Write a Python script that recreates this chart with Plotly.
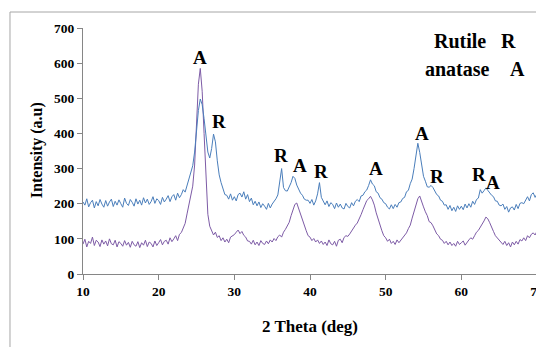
import numpy as np
import plotly.graph_objects as go

# 2-theta scan grid (deg)
two_theta = [round(10 + 0.25 * i, 2) for i in range(241)]

# Sample b (blue) intensities, one row per degree (4 points / deg)
intensity_b = [
    205, 196, 214, 191,   # 10
    203, 210, 188, 206,   # 11
    194, 212, 199, 190,   # 12
    209, 193, 205, 213,   # 13
    192, 207, 196, 211,   # 14
    200, 190, 216, 201,   # 15
    195, 212, 204, 193,   # 16
    214, 199, 210, 196,   # 17
    217, 202, 213, 198,   # 18
    206, 220, 201, 214,   # 19
    209, 198, 218, 205,   # 20
    213, 223, 206, 220,   # 21
    226, 210, 230, 217,   # 22
    226, 240, 233, 252,   # 23
    268, 287, 308, 347,   # 24
    405, 465, 498, 482,   # 25
    442, 383, 347, 330,   # 26
    357, 398, 376, 322,   # 27
    282, 260, 240, 226,   # 28
    224, 213, 228, 210,   # 29
    220, 208, 226, 230,   # 30
    219, 234, 213, 226,   # 31
    206, 216, 197, 207,   # 32
    194, 205, 189, 200,   # 33
    193, 184, 201, 188,   # 34
    199, 205, 214, 225,   # 35
    265, 300, 246, 237,   # 36
    236, 248, 260, 278,   # 37
    272, 253, 242, 230,   # 38
    224, 213, 210, 210,   # 39
    201, 212, 196, 208,   # 40
    228, 260, 218, 209,   # 41
    197, 208, 192, 203,   # 42
    198, 186, 202, 190,   # 43
    199, 188, 185, 201,   # 44
    192, 188, 203, 194,   # 45
    207, 212, 206, 222,   # 46
    224, 234, 239, 252,   # 47
    268, 256, 251, 234,   # 48
    230, 217, 213, 203,   # 49
    200, 190, 185, 197,   # 50
    186, 198, 190, 203,   # 51
    205, 215, 218, 234,   # 52
    238, 257, 270, 300,   # 53
    335, 372, 346, 307,   # 54
    278, 264, 248, 247,   # 55
    252, 246, 237, 226,   # 56
    222, 210, 207, 196,   # 57
    197, 184, 195, 180,   # 58
    190, 178, 194, 184,   # 59
    193, 183, 199, 188,   # 60
    200, 190, 207, 198,   # 61
    212, 216, 240, 230,   # 62
    237, 245, 238, 230,   # 63
    224, 220, 208, 207,   # 64
    196, 194, 199, 184,   # 65
    192, 176, 188, 191,   # 66
    182, 198, 186, 201,   # 67
    203, 200, 210, 220,   # 68
    208, 226, 231, 218,   # 69
    228,                  # 70
]

# Sample a (purple) intensities
intensity_a = [
    85, 99, 77, 93,       # 10
    87, 105, 81, 96,      # 11
    91, 78, 97, 85,       # 12
    94, 80, 100, 86,      # 13
    83, 96, 77, 92,       # 14
    87, 79, 95, 82,       # 15
    90, 76, 93, 83,       # 16
    79, 92, 75, 89,       # 17
    82, 96, 78, 91,       # 18
    87, 77, 94, 81,       # 19
    89, 98, 83, 93,       # 20
    96, 85, 103, 92,      # 21
    100, 109, 95, 113,    # 22
    118, 129, 144, 171,   # 23
    195, 226, 250, 310,   # 24
    430, 540, 585, 520,   # 25
    400, 270, 170, 136,   # 26
    121, 111, 119, 104,   # 27
    109, 95, 103, 91,     # 28
    99, 89, 105, 109,     # 29
    112, 119, 125, 115,   # 30
    121, 110, 105, 94,    # 31
    93, 85, 96, 83,       # 32
    91, 81, 95, 87,       # 33
    84, 94, 86, 97,       # 34
    91, 101, 95, 106,     # 35
    111, 105, 119, 127,   # 36
    136, 147, 166, 184,   # 37
    198, 202, 186, 167,   # 38
    151, 134, 123, 109,   # 39
    105, 95, 101, 91,     # 40
    97, 87, 94, 84,       # 41
    91, 81, 97, 86,       # 42
    83, 93, 79, 96,       # 43
    99, 89, 104, 109,     # 44
    107, 114, 123, 129,   # 45
    139, 145, 156, 169,   # 46
    183, 195, 209, 214,   # 47
    221, 211, 196, 174,   # 48
    156, 137, 123, 109,   # 49
    103, 93, 99, 87,      # 50
    93, 84, 97, 89,       # 51
    96, 101, 111, 117,    # 52
    129, 139, 159, 177,   # 53
    196, 214, 222, 204,   # 54
    191, 177, 166, 149,   # 55
    146, 137, 123, 114,   # 56
    109, 99, 96, 87,      # 57
    93, 83, 91, 81,       # 58
    87, 79, 93, 84,       # 59
    89, 94, 82, 91,       # 60
    97, 103, 99, 109,     # 61
    119, 124, 133, 139,   # 62
    151, 162, 157, 146,   # 63
    131, 121, 109, 103,   # 64
    95, 91, 84, 93,       # 65
    81, 89, 77, 91,       # 66
    83, 93, 85, 98,       # 67
    94, 103, 95, 109,     # 68
    103, 113, 117, 111,   # 69
    122,                  # 70
]

# Peak labels: (2theta, intensity, label)
peak_x = [25.46, 27.97, 36.17, 38.68, 41.45, 48.72, 54.84, 56.82, 62.33, 64.22]
peak_y = [615, 433, 336, 308, 291, 299, 400, 277, 284, 260]
peak_text = ["A", "R", "R", "A", "R", "A", "A", "R", "R", "A"]

x_ticks = [10, 20, 30, 40, 50, 60, 70]
y_ticks = [0, 100, 200, 300, 400, 500, 600, 700]

FONT = "Liberation Serif"
BLUE = "#4a7ebb"
PURPLE = "#7d5ba6"


def bold(size):
    return dict(family=FONT, size=size, color="black", weight="bold")


fig = go.Figure()
fig.add_trace(go.Scatter(x=two_theta, y=intensity_a, mode="lines", name="a",
                         line=dict(color=PURPLE, width=1)))
fig.add_trace(go.Scatter(x=two_theta, y=intensity_b, mode="lines", name="b",
                         line=dict(color=BLUE, width=1)))

annotations = []
for px_, py_, t in zip(peak_x, peak_y, peak_text):
    annotations.append(dict(x=px_, y=py_, xref="x", yref="y", text=t, showarrow=False,
                            xanchor="center", yanchor="middle", font=bold(19)))

# key text
for tx, ty, t in [(0.8293, 0.948, "Rutile"), (0.937, 0.948, "R"),
                  (0.8238, 0.832, "anatase"), (0.956, 0.832, "A")]:
    annotations.append(dict(x=tx, y=ty, xref="paper", yref="paper", text=t,
                            showarrow=False, xanchor="center", yanchor="middle",
                            font=bold(20)))
# clipped legend labels at right edge
annotations.append(dict(x=1.002, y=0.300, xref="paper", yref="paper", text="b",
                        showarrow=False, xanchor="left", yanchor="middle", font=bold(19)))
annotations.append(dict(x=1.002, y=0.110, xref="paper", yref="paper", text="a",
                        showarrow=False, xanchor="left", yanchor="middle", font=bold(19)))
# axis titles
annotations.append(dict(x=-0.101, y=0.504, xref="paper", yref="paper", text="Intensity (a.u)",
                        textangle=-90, showarrow=False, xanchor="center", yanchor="middle",
                        font=bold(16)))
annotations.append(dict(x=0.50, y=-0.215, xref="paper", yref="paper", text="2 Theta (deg)",
                        showarrow=False, xanchor="center", yanchor="middle", font=bold(17)))

# page body has an 8px margin: plot area spans window px x 83..537, y 28..274
fig.update_layout(
    width=536, height=339,
    margin=dict(l=75, r=7, t=20, b=73, autoexpand=False),
    paper_bgcolor="white", plot_bgcolor="white",
    showlegend=False,
    annotations=annotations,
    shapes=[dict(type="rect", xref="paper", yref="paper",
                 x0=-0.1608, x1=1.2, y0=-0.5, y1=1.065,
                 line=dict(color="#a6a6a6", width=1), layer="below")],
    font=bold(13.5),
)
axis_common = dict(showgrid=False, zeroline=False, showline=True, linecolor="#868686",
                   linewidth=1, ticks="outside", ticklen=5, tickcolor="#868686",
                   tickfont=bold(13.5), automargin=False)
fig.update_xaxes(range=[10, 70], tickvals=x_ticks, **axis_common)
fig.update_yaxes(range=[0, 700], tickvals=y_ticks, **axis_common)

fig.write_html("out.html")
